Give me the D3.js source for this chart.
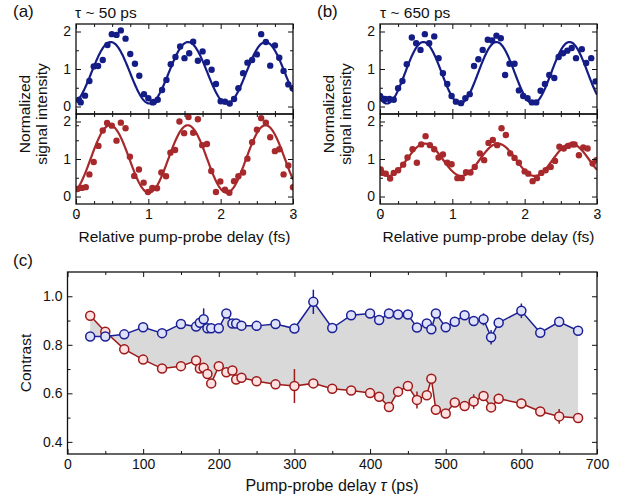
<!DOCTYPE html>
<html lang="en">
<head>
<meta charset="UTF-8">
<title>Pump-probe contrast</title>
<script src="https://d3js.org/d3.v7.min.js"></script>
<style>
  body { margin: 0; background: #fff; }
  svg { font-family: "Liberation Sans", Arial, sans-serif; }
  .tick text { font-size: 14px; fill: #111; }
  .tick line { stroke: #111; stroke-width: 1; }
  .lbl { font-size: 15.5px; fill: #111; }
  .plbl { font-size: 17px; fill: #111; }
</style>
</head>
<body>
<svg id="chart" width="630" height="502"></svg>
<script>
// ---- panel (a): tau ~ 50 ps, [delay fs, intensity]
const aTop = [[0.04,0.18],[0.065,0.11],[0.125,0.29],[0.185,0.68],[0.245,1.07],[0.305,1.08],[0.37,1.24],[0.435,1.64],[0.495,1.93],[0.56,1.91],[0.62,2.03],[0.685,1.81],[0.75,1.40],[0.815,1.14],[0.875,0.82],[0.94,0.33],[1.0,0.22],[1.06,0.11],[1.075,0.12],[1.13,0.18],[1.19,0.44],[1.25,0.71],[1.31,1.13],[1.375,1.32],[1.44,1.60],[1.5,1.29],[1.565,1.42],[1.62,1.73],[1.685,1.22],[1.75,1.47],[1.81,1.18],[1.875,0.98],[1.935,0.60],[2.0,0.14],[2.06,0.13],[2.125,0.08],[2.185,0.20],[2.245,0.49],[2.31,0.89],[2.37,1.17],[2.435,1.24],[2.5,1.39],[2.56,1.93],[2.625,1.72],[2.685,1.09],[2.75,1.63],[2.81,1.30],[2.87,0.95],[2.935,0.59],[2.995,0.49]];
const aBot = [[0.02,0.20],[0.08,0.23],[0.135,0.25],[0.185,0.59],[0.245,0.92],[0.31,1.35],[0.37,1.76],[0.43,1.96],[0.495,1.89],[0.56,1.49],[0.62,1.97],[0.685,1.82],[0.745,1.06],[0.805,0.55],[0.87,0.72],[0.935,0.37],[0.995,0.12],[1.055,0.23],[1.12,0.22],[1.18,0.64],[1.245,0.54],[1.305,1.17],[1.37,1.24],[1.43,2.0],[1.495,1.69],[1.555,2.12],[1.62,1.70],[1.685,2.06],[1.745,1.37],[1.81,1.40],[1.87,0.68],[1.935,0.12],[1.995,0.40],[2.06,0.18],[2.12,0.10],[2.185,0.41],[2.245,0.54],[2.31,0.64],[2.37,1.01],[2.435,1.45],[2.5,1.78],[2.56,2.09],[2.625,1.97],[2.685,1.58],[2.75,1.21],[2.81,1.26],[2.87,0.59],[2.935,0.83],[3.0,0.25]];
// ---- panel (b): tau ~ 650 ps
const bTop = [[0.0,0.28],[0.02,0.22],[0.07,0.20],[0.13,0.20],[0.19,0.18],[0.25,0.49],[0.31,0.68],[0.37,1.13],[0.44,1.84],[0.50,1.69],[0.56,1.51],[0.62,1.93],[0.68,1.69],[0.75,1.87],[0.81,1.29],[0.87,0.89],[0.93,0.60],[0.99,0.28],[1.05,0.13],[1.12,0.09],[1.18,0.22],[1.24,0.33],[1.30,1.08],[1.36,1.26],[1.42,1.51],[1.49,1.78],[1.55,1.76],[1.61,1.89],[1.67,1.82],[1.73,0.84],[1.79,1.14],[1.86,1.14],[1.92,0.43],[1.98,0.28],[2.04,0.22],[2.10,0.11],[2.16,0.11],[2.22,0.42],[2.28,0.60],[2.34,0.84],[2.41,0.76],[2.47,1.32],[2.53,1.42],[2.59,1.49],[2.65,1.56],[2.71,1.29],[2.79,1.53],[2.85,1.16],[2.92,1.29],[2.98,0.67]];
const bBot = [[0.01,0.72],[0.03,0.63],[0.08,0.61],[0.14,0.48],[0.19,0.63],[0.25,0.70],[0.32,0.85],[0.38,1.04],[0.45,1.26],[0.51,0.90],[0.57,1.39],[0.63,1.61],[0.69,1.37],[0.75,1.26],[0.81,1.04],[0.87,1.12],[0.93,0.90],[0.99,0.86],[1.07,0.49],[1.13,0.49],[1.19,0.65],[1.25,0.64],[1.31,0.79],[1.38,1.15],[1.44,0.97],[1.50,1.43],[1.56,1.51],[1.62,1.37],[1.68,1.82],[1.74,1.64],[1.80,1.15],[1.86,1.03],[1.92,0.90],[2.0,0.67],[2.05,0.61],[2.11,0.41],[2.17,0.49],[2.23,0.63],[2.29,0.70],[2.36,0.79],[2.42,0.95],[2.48,1.33],[2.54,1.28],[2.60,1.35],[2.66,1.39],[2.69,1.39],[2.75,1.10],[2.81,1.31],[2.87,1.28],[2.94,0.88],[2.99,0.97]];
// sinusoidal fits: [offset, amplitude, period (fs), peak position (fs)]
const fitATop = [0.90, 0.82, 1.07, 0.48];
const fitABot = [1.00, 0.90, 1.075, 0.47];
const fitBTop = [0.90, 0.82, 1.01, 0.60];
const fitBBot = [0.98, 0.43, 1.01, 0.62];

// ---- panel (c): contrast vs pump-probe delay
const delays = [30,50,75,100,125,150,170,175,180,185,190,200,210,218,223,230,250,275,300,325,350,375,400,412,425,437,450,462,475,481,487,500,512,525,537,550,560,570,600,625,650,675];
const contrastBlue = [0.834,0.834,0.843,0.872,0.848,0.886,0.875,0.891,0.905,0.868,0.868,0.868,0.929,0.888,0.888,0.879,0.878,0.886,0.867,0.977,0.869,0.922,0.929,0.902,0.929,0.925,0.925,0.871,0.888,0.864,0.929,0.872,0.895,0.922,0.898,0.905,0.831,0.891,0.940,0.850,0.895,0.858];
const errBlue = [0.008,0.008,0.008,0.008,0.008,0.008,0.008,0.01,0.045,0.008,0.008,0.008,0.01,0.008,0.008,0.008,0.008,0.008,0.008,0.05,0.008,0.008,0.01,0.02,0.02,0.01,0.01,0.01,0.01,0.01,0.015,0.01,0.02,0.01,0.01,0.025,0.03,0.02,0.03,0.02,0.02,0.015];
const contrastRed = [0.920,0.854,0.782,0.739,0.702,0.712,0.735,0.702,0.705,0.680,0.641,0.712,0.687,0.694,0.657,0.664,0.650,0.637,0.630,0.641,0.619,0.612,0.601,0.586,0.544,0.607,0.630,0.573,0.592,0.660,0.532,0.517,0.562,0.548,0.566,0.589,0.542,0.578,0.558,0.525,0.505,0.498];
const errRed = [0.008,0.008,0.02,0.008,0.008,0.008,0.008,0.008,0.008,0.008,0.008,0.02,0.008,0.008,0.008,0.008,0.008,0.01,0.07,0.01,0.01,0.008,0.015,0.01,0.01,0.02,0.01,0.035,0.015,0.01,0.02,0.008,0.01,0.015,0.03,0.02,0.01,0.02,0.02,0.01,0.03,0.01];

const BLUE = "#141c86", RED = "#a8292b";
const svg = d3.select("#chart");

function frameAxes(g, x, y, xMaj, xMin, yMaj, yMin, showX, yFmt, xFmt) {
  const [x0, x1] = x.range(), [y1, y0] = y.range();
  const w = x1 - x0, h = y1 - y0;
  const clean = s => s.select(".domain").remove();
  // left
  g.append("g").attr("transform", `translate(${x0},0)`)
    .call(d3.axisLeft(y).tickValues(yMaj).tickSize(-5).tickPadding(5).tickFormat(yFmt)).call(clean);
  g.append("g").attr("transform", `translate(${x0},0)`)
    .call(d3.axisLeft(y).tickValues(yMin).tickSize(-3).tickFormat("")).call(clean);
  // right
  g.append("g").attr("transform", `translate(${x1},0)`)
    .call(d3.axisRight(y).tickValues(yMaj).tickSize(-5).tickFormat("")).call(clean);
  g.append("g").attr("transform", `translate(${x1},0)`)
    .call(d3.axisRight(y).tickValues(yMin).tickSize(-3).tickFormat("")).call(clean);
  // bottom
  g.append("g").attr("transform", `translate(0,${y1})`)
    .call(d3.axisBottom(x).tickValues(xMaj).tickSize(-5).tickPadding(5).tickFormat(showX ? xFmt : "")).call(clean);
  g.append("g").attr("transform", `translate(0,${y1})`)
    .call(d3.axisBottom(x).tickValues(xMin).tickSize(-3).tickFormat("")).call(clean);
  // top
  g.append("g").attr("transform", `translate(0,${y0})`)
    .call(d3.axisTop(x).tickValues(xMaj).tickSize(-5).tickFormat("")).call(clean);
  g.append("g").attr("transform", `translate(0,${y0})`)
    .call(d3.axisTop(x).tickValues(xMin).tickSize(-3).tickFormat("")).call(clean);
  g.append("rect").attr("x", x0).attr("y", y0).attr("width", w).attr("height", h)
    .attr("fill", "none").attr("stroke", "#111").attr("stroke-width", 1.3);
}

function oscPanel(left, right, data, fit, top, bottom, color, showX, clipId) {
  const x = d3.scaleLinear().domain([0, 3]).range([left, right]);
  const y = d3.scaleLinear().domain([-0.2, 2.2]).range([bottom, top]);
  const g = svg.append("g");
  g.append("clipPath").attr("id", clipId).append("rect")
    .attr("x", left).attr("y", top).attr("width", right - left).attr("height", bottom - top);
  const plot = g.append("g").attr("clip-path", `url(#${clipId})`);
  const [c, A, P, x0] = fit;
  const curve = d3.range(0, 3.0001, 0.01).map(t => [t, c + A * Math.cos(2 * Math.PI * (t - x0) / P)]);
  plot.append("path").datum(curve)
    .attr("d", d3.line().x(d => x(d[0])).y(d => y(d[1])))
    .attr("fill", "none").attr("stroke", color).attr("stroke-width", 2.2);
  plot.selectAll("circle").data(data).join("circle")
    .attr("cx", d => x(d[0])).attr("cy", d => y(d[1])).attr("r", 3.2).attr("fill", color);
  frameAxes(g, x, y, [0, 1, 2, 3], d3.range(0.25, 3, 0.25).filter(v => v % 1 !== 0),
    [0, 1, 2], [-0.5, 0.5, 1.5], showX, d3.format("d"), d3.format("d"));
  return x;
}

// panels (a) and (b)
const panels = [
  {left: 76, right: 293, top: aTop, bot: aBot, fitT: fitATop, fitB: fitABot, id: "a"},
  {left: 380, right: 597, top: bTop, bot: bBot, fitT: fitBTop, fitB: fitBBot, id: "b"}
];
panels.forEach(p => {
  oscPanel(p.left, p.right, p.top, p.fitT, 24, 114, BLUE, false, "clip" + p.id + "1");
  oscPanel(p.left, p.right, p.bot, p.fitB, 114, 204, RED, true, "clip" + p.id + "2");
  const mid = (p.left + p.right) / 2;
  svg.append("text").attr("class", "lbl").attr("x", mid).attr("y", 242)
    .attr("text-anchor", "middle").text("Relative pump-probe delay (fs)");
  const yl = svg.append("text").attr("class", "lbl").attr("text-anchor", "middle")
    .attr("transform", `translate(${p.left - 46},114) rotate(-90)`);
  yl.append("tspan").attr("x", 0).attr("dy", 0).text("Normalized");
  yl.append("tspan").attr("x", 0).attr("dy", 17).text("signal intensity");
  svg.append("text").attr("class", "plbl").attr("x", p.left - 63).attr("y", 17).text(`(${p.id})`);
});
svg.append("text").attr("class", "lbl").attr("x", 75).attr("y", 18).text("τ ~ 50 ps");
svg.append("text").attr("class", "lbl").attr("x", 380).attr("y", 18).text("τ ~ 650 ps");

// panel (c)
const xc = d3.scaleLinear().domain([0, 700]).range([67.5, 597]);
const yc = d3.scaleLinear().domain([0.35, 1.1]).range([454, 272]);
const gc = svg.append("g");
const rows = delays.map((d, i) => ({d, b: contrastBlue[i], eb: errBlue[i], r: contrastRed[i], er: errRed[i]}));

gc.append("path").datum(rows)
  .attr("d", d3.area().x(d => xc(d.d)).y0(d => yc(d.r)).y1(d => yc(d.b)))
  .attr("fill", "#d9d9d9");

function series(key, ekey, stroke, fill) {
  const s = gc.append("g");
  s.append("path").datum(rows)
    .attr("d", d3.line().x(d => xc(d.d)).y(d => yc(d[key])))
    .attr("fill", "none").attr("stroke", stroke).attr("stroke-width", 1.5);
  s.selectAll("line").data(rows).join("line")
    .attr("x1", d => xc(d.d)).attr("x2", d => xc(d.d))
    .attr("y1", d => yc(d[key] - d[ekey])).attr("y2", d => yc(d[key] + d[ekey]))
    .attr("stroke", stroke).attr("stroke-width", 1.5);
  s.selectAll("circle").data(rows).join("circle")
    .attr("cx", d => xc(d.d)).attr("cy", d => yc(d[key])).attr("r", 4.5)
    .attr("fill", fill).attr("stroke", stroke).attr("stroke-width", 1.5);
}
series("r", "er", "#9c1a1a", "#fde0df");
series("b", "eb", "#1a1f96", "#dfe1f8");

frameAxes(gc, xc, yc, d3.range(0, 701, 100), d3.range(50, 700, 100),
  [0.4, 0.6, 0.8, 1.0], [0.5, 0.7, 0.9], true, d3.format(".1f"), d3.format("d"));

const xl = svg.append("text").attr("class", "lbl").attr("x", 332).attr("y", 491)
  .attr("text-anchor", "middle").style("font-size", "16px");
xl.append("tspan").text("Pump-probe delay ");
xl.append("tspan").style("font-style", "italic").text("τ");
xl.append("tspan").text(" (ps)");
svg.append("text").attr("class", "lbl").attr("text-anchor", "middle")
  .attr("transform", "translate(31,363) rotate(-90)").text("Contrast");
svg.append("text").attr("class", "plbl").attr("x", 13).attr("y", 266).text("(c)");
</script>
</body>
</html>
